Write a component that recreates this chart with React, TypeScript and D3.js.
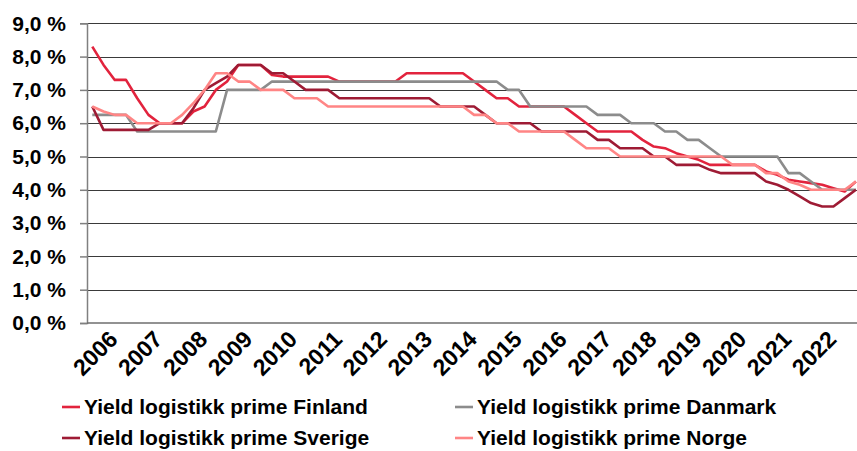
import { useEffect, useRef } from 'react'
import * as d3 from 'd3'

const years = d3.range(2006, 2023)
// quarterly categories, 2006 K1 .. 2023 K1
const quarters = [...years.flatMap(y => [1, 2, 3, 4].map(q => `${y}K${q}`)), '2023K1']

const finland = [
  8.3, 7.75, 7.3, 7.3, 6.75, 6.25, 6.0, 6.0, 6.0, 6.35, 6.5, 7.0, 7.25, 7.75, 7.75, 7.75,
  7.45, 7.4, 7.4, 7.4, 7.4, 7.4, 7.25, 7.25, 7.25, 7.25, 7.25, 7.25, 7.5, 7.5, 7.5, 7.5,
  7.5, 7.5, 7.25, 7.0, 6.75, 6.75, 6.5, 6.5, 6.5, 6.5, 6.5, 6.25, 6.0, 5.75, 5.75, 5.75,
  5.75, 5.5, 5.3, 5.25, 5.1, 5.0, 4.9, 4.75, 4.75, 4.75, 4.75, 4.75, 4.55, 4.45, 4.3, 4.25,
  4.2, 4.15, 4.05, 3.95, 4.25,
]
const danmark = [
  6.25, 6.25, 6.25, 6.25, 5.75, 5.75, 5.75, 5.75, 5.75, 5.75, 5.75, 5.75, 7.0, 7.0, 7.0, 7.0,
  7.25, 7.25, 7.25, 7.25, 7.25, 7.25, 7.25, 7.25, 7.25, 7.25, 7.25, 7.25, 7.25, 7.25, 7.25, 7.25,
  7.25, 7.25, 7.25, 7.25, 7.25, 7.0, 7.0, 6.5, 6.5, 6.5, 6.5, 6.5, 6.5, 6.25, 6.25, 6.25,
  6.0, 6.0, 6.0, 5.75, 5.75, 5.5, 5.5, 5.25, 5.0, 5.0, 5.0, 5.0, 5.0, 5.0, 4.5, 4.5,
  4.25, 4.0, 4.0, 4.0, 4.0,
]
const sverige = [
  6.5, 5.8, 5.8, 5.8, 5.8, 5.8, 6.0, 6.0, 6.0, 6.45, 7.0, 7.2, 7.4, 7.75, 7.75, 7.75,
  7.5, 7.5, 7.25, 7.0, 7.0, 7.0, 6.75, 6.75, 6.75, 6.75, 6.75, 6.75, 6.75, 6.75, 6.75, 6.5,
  6.5, 6.5, 6.5, 6.25, 6.0, 6.0, 6.0, 6.0, 5.75, 5.75, 5.75, 5.75, 5.75, 5.5, 5.5, 5.25,
  5.25, 5.25, 5.0, 5.0, 4.75, 4.75, 4.75, 4.6, 4.5, 4.5, 4.5, 4.5, 4.25, 4.15, 4.0, 3.8,
  3.6, 3.5, 3.5, 3.75, 4.0,
]
const norge = [
  6.5, 6.35, 6.25, 6.25, 6.0, 6.0, 6.0, 6.0, 6.25, 6.6, 7.0, 7.5, 7.5, 7.25, 7.25, 7.0,
  7.0, 7.0, 6.75, 6.75, 6.75, 6.5, 6.5, 6.5, 6.5, 6.5, 6.5, 6.5, 6.5, 6.5, 6.5, 6.5,
  6.5, 6.5, 6.25, 6.25, 6.0, 6.0, 5.75, 5.75, 5.75, 5.75, 5.75, 5.5, 5.25, 5.25, 5.25, 5.0,
  5.0, 5.0, 5.0, 5.0, 5.0, 5.0, 5.0, 5.0, 5.0, 4.75, 4.75, 4.75, 4.5, 4.5, 4.25, 4.15,
  4.0, 4.0, 4.0, 4.0, 4.25,
]

const yTicks = [0, 1, 2, 3, 4, 5, 6, 7, 8, 9]

const series = [
  { name: 'Yield logistikk prime Finland', values: finland, color: '#e2233d' },
  { name: 'Yield logistikk prime Danmark', values: danmark, color: '#8c8c8c' },
  { name: 'Yield logistikk prime Sverige', values: sverige, color: '#9e1b34' },
  { name: 'Yield logistikk prime Norge', values: norge, color: '#ff8585' },
]

const font = '"Liberation Sans", Arial, sans-serif'

function App() {
  const svgRef = useRef<SVGSVGElement>(null)

  useEffect(() => {
    const width = 857
    const height = 451
    const plot = { left: 87, top: 23.3, bottom: 323, right: 870 }

    const svg = d3.select(svgRef.current)
    svg.selectAll('*').remove()
    svg.attr('width', width).attr('height', height)

    const x = d3.scalePoint<string>().domain(quarters).range([92.3, 855.9])
    const y = d3.scaleLinear().domain([0, 9]).range([plot.bottom, plot.top])

    // gridlines
    svg.append('g')
      .selectAll('line')
      .data(yTicks.filter(d => d > 0))
      .join('line')
      .attr('x1', plot.left)
      .attr('x2', plot.right)
      .attr('y1', d => Math.round(y(d)) + 0.5)
      .attr('y2', d => Math.round(y(d)) + 0.5)
      .attr('stroke', '#3a3a3a')
      .attr('stroke-width', 1)

    // y axis
    const yAxis = svg.append('g')
      .attr('transform', `translate(${plot.left},0)`)
      .call(d3.axisLeft(y).tickValues(yTicks).tickSize(7).tickPadding(14)
        .tickFormat(d => `${d3.format('.1f')(d as number).replace('.', ',')} %`))
    yAxis.select('.domain').attr('stroke', '#808080').attr('stroke-width', 1.5)
    yAxis.selectAll('.tick line').attr('stroke', '#808080').attr('stroke-width', 1.5)
    yAxis.selectAll('.tick text')
      .attr('font-family', font)
      .attr('font-weight', 'bold')
      .attr('font-size', 21)
      .attr('fill', '#000')

    // x axis line
    svg.append('line')
      .attr('x1', plot.left).attr('x2', plot.right)
      .attr('y1', plot.bottom).attr('y2', plot.bottom)
      .attr('stroke', '#6e6e6e').attr('stroke-width', 1.5)

    // year labels
    svg.append('g')
      .selectAll('text')
      .data(years)
      .join('text')
      .attr('transform', d => `translate(${(x(`${d}K1`) ?? 0) + 21},335) rotate(-45)`)
      .attr('text-anchor', 'end')
      .attr('dy', '0.35em')
      .attr('font-family', font)
      .attr('font-weight', 'bold')
      .attr('font-size', 23)
      .text(d => d)

    // lines
    const line = d3.line<number>()
      .x((_, i) => x(quarters[i]) ?? 0)
      .y(d => y(d))

    svg.append('g')
      .selectAll('path')
      .data(series)
      .join('path')
      .attr('d', d => line(d.values))
      .attr('fill', 'none')
      .attr('stroke', d => d.color)
      .attr('stroke-width', 2.6)
      .attr('stroke-linejoin', 'round')

    // legend
    const legend = svg.append('g')
    const pos = [
      { x: 62, y: 407 }, { x: 455, y: 407 },
      { x: 62, y: 438 }, { x: 455, y: 438 },
    ]
    series.forEach((s, i) => {
      const g = legend.append('g').attr('transform', `translate(${pos[i].x},${pos[i].y})`)
      g.append('line').attr('x1', 0).attr('x2', 18).attr('stroke', s.color).attr('stroke-width', 2.6)
      g.append('text')
        .attr('x', 22)
        .attr('dy', '0.35em')
        .attr('font-family', font)
        .attr('font-weight', 'bold')
        .attr('font-size', 21)
        .text(s.name)
    })
  }, [])

  return <svg ref={svgRef} style={{ position: 'absolute', left: 0, top: 0 }}></svg>
}

export default App
